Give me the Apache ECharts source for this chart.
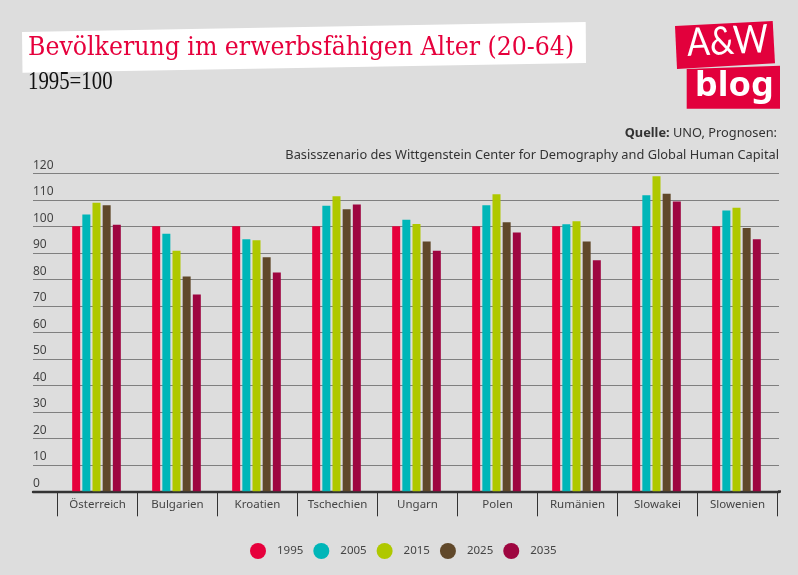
<!DOCTYPE html>
<html>
<head>
<meta charset="utf-8">
<style>html,body{margin:0;padding:0;background:#dddddd}#c{width:798px;height:575px}</style>
<script src="https://cdn.jsdelivr.net/npm/echarts@6/dist/echarts.min.js"></script>
</head>
<body>
<div id="c"></div>
<script>
const categories = ['Österreich','Bulgarien','Kroatien','Tschechien','Ungarn','Polen','Rumänien','Slowakei','Slowenien'];
const yTicks = [0,10,20,30,40,50,60,70,80,90,100,110,120];
const v1995 = [100,100,100,100,100,100,100,100,100];
const v2005 = [104.5,97.2,95.1,107.8,102.5,107.9,100.8,111.7,106];
const v2015 = [108.9,90.8,94.7,111.3,100.9,112.1,101.9,118.9,107];
const v2025 = [107.9,81.1,88.3,106.4,94.3,101.5,94.3,112.3,99.4];
const v2035 = [100.6,74.3,82.6,108.2,90.8,97.7,87.2,109.4,95.1];
const seriesNames = ['1995','2005','2015','2025','2035'];
const seriesValues = [v1995,v2005,v2015,v2025,v2035];
const colors = ['#e6003c','#00b6b8','#afc800','#60482a','#9e0640'];
const SANS = '"Noto Sans", sans-serif';

const chart = echarts.init(document.getElementById('c'), null, {renderer:'canvas'});
chart.setOption({
  animation:false,
  backgroundColor:'#dddddd',
  color:colors,
  legend:{
    data:seriesNames, top:538, left:245, icon:'circle',
    itemWidth:16, itemHeight:16, itemGap:10,
    textStyle:{color:'#444',fontFamily:SANS,fontSize:11.5,padding:[0,0,0,6]}
  },
  grid:[
    {left:33,right:19,top:173.3,height:318},
    {left:57.5,width:720,top:173.3,height:318},
    {left:56.5,width:720,top:173.3,height:318}
  ],
  xAxis:[
    {gridIndex:0,type:'value',min:0,max:1,
      axisLine:{show:true,onZero:false,lineStyle:{color:'#333',width:2.4}},
      axisTick:{show:false},axisLabel:{show:false},splitLine:{show:false}},
    {gridIndex:1,type:'category',data:categories,
      axisLine:{show:false},
      axisTick:{show:true,length:25,lineStyle:{color:'#333',width:1}},
      axisLabel:{color:'#444',fontFamily:SANS,fontSize:11.5,margin:7,interval:0}},
    {gridIndex:2,type:'category',data:categories,show:false}
  ],
  yAxis:[
    {gridIndex:0,type:'value',min:0,max:120,interval:10,
      axisLine:{show:false},axisTick:{show:false},
      splitLine:{show:true,lineStyle:{color:'#7f7f7f',width:1.2}},
      axisLabel:{inside:true,margin:0,color:'#444',fontFamily:SANS,fontSize:12,
        verticalAlign:'bottom',padding:[0,0,2,0],showMinLabel:true,showMaxLabel:true,
        formatter:v=>yTicks.includes(v)?String(v):''}},
    {gridIndex:1,type:'value',min:0,max:120,interval:10,show:false,splitLine:{show:false}},
    {gridIndex:2,type:'value',min:0,max:120,interval:10,show:false,splitLine:{show:false}}
  ],
  series:seriesValues.map((d,i)=>({
    name:seriesNames[i],type:'bar',xAxisIndex:2,yAxisIndex:2,data:d,
    barWidth:8,barGap:'27%',z:3,
    itemStyle:{color:colors[i]}
  })),
  graphic:[
    {type:'polygon',z:1,shape:{points:[[22,32],[585.7,22],[586,63],[22.5,72.7]]},style:{fill:'#ffffff'}},
    {type:'text',z:2,x:28,y:35,style:{text:'Bevölkerung im erwerbsfähigen Alter (20-64)',fill:'#e6003c',font:'26.3px "DejaVu Serif Condensed", "DejaVu Serif", serif'}},
    {type:'text',z:2,x:28,y:69,scaleX:0.8,style:{text:'1995=100',fill:'#111',font:'26px "Liberation Serif", serif'}},
    {type:'polygon',z:1,shape:{points:[[675,26],[772.7,21],[775,63.3],[677,69]]},style:{fill:'#e2003c'}},
    {type:'polygon',z:1,shape:{points:[[686.7,69],[780,65.7],[780,108.7],[686.7,108.7]]},style:{fill:'#e2003c'}},
    {type:'text',z:2,x:686,y:24,scaleX:0.87,rotation:0.05,style:{text:'A&W',fill:'#fff',font:'400 39px Lato, '+SANS}},
    {type:'text',z:2,x:695,y:69,scaleX:1.06,style:{text:'blog',fill:'#fff',font:'bold 34px '+SANS}},
    {type:'text',z:2,right:21,top:127,style:{rich:{b:{font:'bold 12.8px '+SANS,fill:'#333'},n:{font:'12.8px '+SANS,fill:'#333'}},text:'{b|Quelle:} {n|UNO, Prognosen:}'}},
    {type:'text',z:2,right:19,top:149,style:{text:'Basisszenario des Wittgenstein Center for Demography and Global Human Capital',fill:'#333',font:'12.8px '+SANS}},
    {type:'line',z:2,shape:{x1:778,y1:491.5,x2:781,y2:491.5},style:{stroke:'#333',lineWidth:2.4}}
  ]
});
</script>
</body>
</html>
